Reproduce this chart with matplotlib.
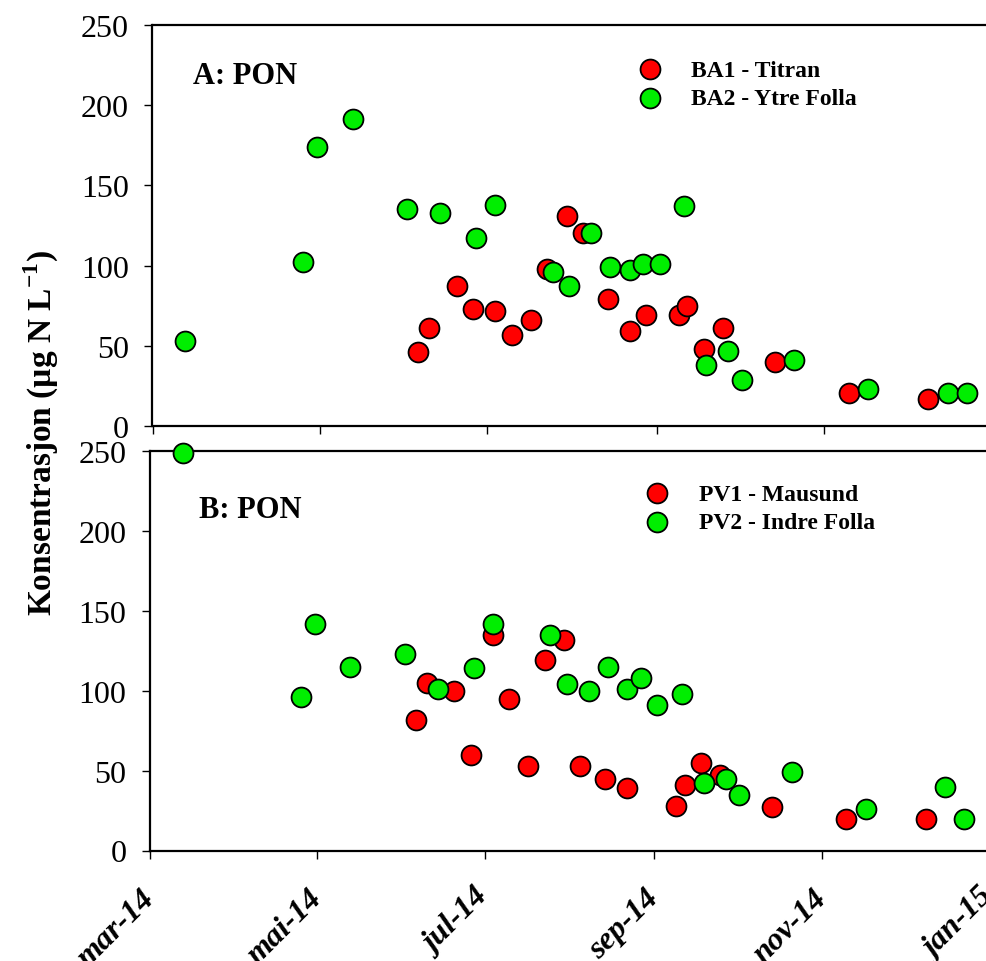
import matplotlib
matplotlib.use("Agg")
import matplotlib.pyplot as plt
import matplotlib.transforms as mtransforms
import numpy as np
import pandas as pd

# ---------------- data ----------------
a_red_dates = ["2014-06-06", "2014-06-10", "2014-06-20", "2014-06-26", "2014-07-04",
               "2014-07-10", "2014-07-17", "2014-07-23", "2014-07-30", "2014-08-05",
               "2014-08-14", "2014-08-22", "2014-08-28", "2014-09-09", "2014-09-12",
               "2014-09-18", "2014-09-25", "2014-10-14", "2014-11-10", "2014-12-09"]
a_red_vals = [46, 61, 87, 73, 72, 57, 66, 98, 131, 120, 79, 59, 69, 69, 75, 48, 61, 40, 21, 17]

a_green_dates = ["2014-03-13", "2014-04-25", "2014-04-30", "2014-05-13", "2014-06-02",
                 "2014-06-14", "2014-06-27", "2014-07-04", "2014-07-25", "2014-07-31",
                 "2014-08-08", "2014-08-15", "2014-08-22", "2014-08-27", "2014-09-02",
                 "2014-09-11", "2014-09-19", "2014-09-27", "2014-10-02", "2014-10-21",
                 "2014-11-17", "2014-12-16", "2014-12-23"]
a_green_vals = [53, 102, 174, 191, 135, 133, 117, 138, 96, 87, 120, 99, 97, 101, 101,
                137, 38, 47, 29, 41, 23, 21, 21]

b_red_dates = ["2014-06-06", "2014-06-10", "2014-06-20", "2014-06-26", "2014-07-04",
               "2014-07-10", "2014-07-17", "2014-07-23", "2014-07-30", "2014-08-05",
               "2014-08-14", "2014-08-22", "2014-09-09", "2014-09-12", "2014-09-18",
               "2014-09-25", "2014-10-14", "2014-11-10", "2014-12-09"]
b_red_vals = [82, 105, 100, 60, 135, 95, 53, 119, 132, 53, 45, 39, 28, 41, 55, 47, 27, 20, 20]

b_green_dates = ["2014-03-13", "2014-04-25", "2014-04-30", "2014-05-13", "2014-06-02",
                 "2014-06-14", "2014-06-27", "2014-07-04", "2014-07-25", "2014-07-31",
                 "2014-08-08", "2014-08-15", "2014-08-22", "2014-08-27", "2014-09-02",
                 "2014-09-11", "2014-09-19", "2014-09-27", "2014-10-02", "2014-10-21",
                 "2014-11-17", "2014-12-16", "2014-12-23"]
b_green_vals = [249, 96, 142, 115, 123, 101, 114, 142, 135, 104, 100, 115, 101, 108, 91,
                98, 42, 45, 35, 49, 26, 40, 20]

a_labels = ["BA1 - Titran", "BA2 - Ytre Folla"]
b_labels = ["PV1 - Mausund", "PV2 - Indre Folla"]
panel_titles = ["A: PON", "B: PON"]
xtick_dates = ["2014-03-01", "2014-05-01", "2014-07-01", "2014-09-01", "2014-11-01", "2015-01-01"]
xtick_labels = ["mar-14", "mai-14", "jul-14", "sep-14", "nov-14", "jan-15"]
yticks = [0, 50, 100, 150, 200, 250]

# ---------------- style ----------------
plt.rcParams['font.family'] = ['Liberation Serif', 'DejaVu Serif']
plt.rcParams['mathtext.fontset'] = 'custom'
plt.rcParams['mathtext.rm'] = 'Liberation Serif'
plt.rcParams['mathtext.bf'] = 'Liberation Serif:bold'

RED = '#ff0000'
GREEN = '#00ee00'
W, H = 987, 962
fig = plt.figure(figsize=(W / 100, H / 100), dpi=100)

def pos(left_px, top_px, bottom_px, width_px):
    return [left_px / W, 1 - bottom_px / H, width_px / W, (bottom_px - top_px) / H]

axA = fig.add_axes(pos(152.5, 25.5, 427.3, 839))
axB = fig.add_axes(pos(150, 452.3, 851.5, 839))

xmin = pd.Timestamp("2014-03-01")
xmax = pd.Timestamp("2015-01-01")
tick_dt = pd.to_datetime(xtick_dates)

def style(ax, show_labels):
    ax.set_xlim(xmin, xmax)
    ax.set_ylim(0, 250)
    ax.set_yticks(yticks)
    ax.set_yticklabels([str(v) for v in yticks], fontsize=23)
    ax.set_xticks(tick_dt)
    if show_labels:
        ax.set_xticklabels(xtick_labels, fontsize=23, fontweight='bold', fontstyle='italic',
                           rotation=45, ha='right', va='center', rotation_mode='anchor')
        off = mtransforms.ScaledTranslation(-6 / 100, 0, fig.dpi_scale_trans)
        for lab in ax.get_xticklabels():
            lab.set_transform(lab.get_transform() + off)
    else:
        ax.set_xticklabels([])
    ax.spines['right'].set_visible(False)
    for s in ['left', 'top', 'bottom']:
        ax.spines[s].set_linewidth(1.6)
    ax.tick_params(axis='both', direction='out', length=6, width=1.0)
    ax.tick_params(axis='x', pad=25)
    ax.tick_params(axis='y', pad=11)

def scatter(ax, dates, vals, color, label):
    ax.scatter(pd.to_datetime(dates), vals, s=205, c=color, edgecolors='black',
               linewidths=1.3, label=label, zorder=3, clip_on=False)

scatter(axA, a_red_dates, a_red_vals, RED, a_labels[0])
scatter(axA, a_green_dates, a_green_vals, GREEN, a_labels[1])
scatter(axB, b_red_dates, b_red_vals, RED, b_labels[0])
scatter(axB, b_green_dates, b_green_vals, GREEN, b_labels[1])

style(axA, False)
style(axB, True)

axA.text(0.048, 0.855, panel_titles[0], transform=axA.transAxes, fontsize=22,
         fontweight='bold', va='baseline', ha='left')
axB.text(0.058, 0.835, panel_titles[1], transform=axB.transAxes, fontsize=22,
         fontweight='bold', va='baseline', ha='left')

for ax, anchor in [(axA, (0.545, 0.955)), (axB, (0.557, 0.962))]:
    leg = ax.legend(loc='upper left', bbox_to_anchor=anchor, frameon=False,
                    prop={'family': 'Liberation Serif', 'weight': 'bold', 'size': 17},
                    handletextpad=0.75, labelspacing=0.3, borderaxespad=0.3,
                    scatterpoints=1)

fig.text(0.042, 0.55, r'Konsentrasjon (µg N L$^{\mathbf{-1}}$)', rotation=90,
         fontsize=24, fontweight='bold', ha='center', va='center')

fig.savefig("out.png", dpi=100)
